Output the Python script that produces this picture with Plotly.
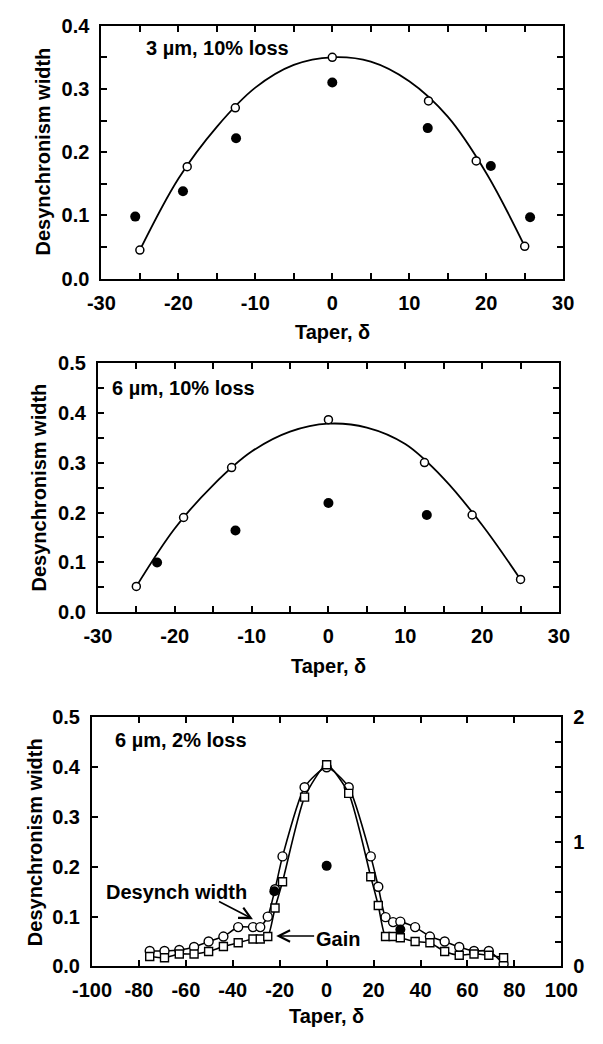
import plotly.graph_objects as go

# ---------------- Panel 1: 3 um, 10% loss ----------------
p1_open_x = [-25.0, -18.85, -12.6, 0.0, 12.5, 18.7, 25.0]
p1_open_y = [0.045, 0.177, 0.270, 0.350, 0.281, 0.186, 0.051]
p1_fill_x = [-25.6, -19.4, -12.5, 0.0, 12.4, 20.6, 25.7]
p1_fill_y = [0.098, 0.138, 0.222, 0.310, 0.238, 0.178, 0.097]
p1_fit_x = [-25, -20, -15, -10, -5, 0, 5, 10, 15, 20, 25]
p1_fit_y = [0.045, 0.158, 0.240, 0.302, 0.338, 0.350, 0.343, 0.312, 0.256, 0.167, 0.051]

# ---------------- Panel 2: 6 um, 10% loss ----------------
p2_open_x = [-25.0, -18.85, -12.6, 0.0, 12.5, 18.7, 25.0]
p2_open_y = [0.052, 0.190, 0.290, 0.386, 0.300, 0.195, 0.066]
p2_fill_x = [-22.3, -12.1, 0.0, 12.8]
p2_fill_y = [0.100, 0.164, 0.219, 0.195]
p2_fit_x = [-25, -20, -15, -10, -5, 0, 5, 10, 15, 20, 25]
p2_fit_y = [0.052, 0.168, 0.255, 0.322, 0.362, 0.378, 0.370, 0.337, 0.268, 0.175, 0.066]

# ---------------- Panel 3: 6 um, 2% loss ----------------
p3_x = [-75.4, -69.1, -62.8, -56.5, -50.3, -44.0, -37.7, -31.4, -28.3, -25.1, -22.0, -18.8, -9.4, 0.0,
        9.4, 18.8, 22.0, 25.1, 28.3, 31.4, 37.7, 44.0, 50.3, 56.5, 62.8, 69.1, 75.4]
p3_desynch = [0.031, 0.031, 0.033, 0.039, 0.050, 0.060, 0.079, 0.079, 0.079, 0.100, 0.155, 0.221, 0.360, 0.400,
              0.360, 0.221, 0.160, 0.099, 0.089, 0.090, 0.079, 0.060, 0.050, 0.039, 0.031, 0.031, 0.005]
p3_gain = [0.08, 0.07, 0.10, 0.10, 0.12, 0.16, 0.19, 0.22, 0.22, 0.24, 0.47, 0.68, 1.36, 1.62,
           1.39, 0.72, 0.49, 0.24, 0.24, 0.23, 0.20, 0.19, 0.12, 0.09, 0.10, 0.09, 0.07]
p3_fill_x = [-22.3, 0.0, 31.4]
p3_fill_y = [0.151, 0.202, 0.074]

# ---------------- tick labels ----------------
x12_tickvals = [-30, -20, -10, 0, 10, 20, 30]
x12_ticktext = ["-30", "-20", "-10", "0", "10", "20", "30"]
x3_tickvals = [-100, -80, -60, -40, -20, 0, 20, 40, 60, 80, 100]
x3_ticktext = ["-100", "-80", "-60", "-40", "-20", "0", "20", "40", "60", "80", "100"]

FONT = "Liberation Sans, Arial, Helvetica, sans-serif"
FS = 20
W, H = 603, 1044

fig = go.Figure()

open_marker = dict(symbol="circle", size=8, color="white", line=dict(color="black", width=1.5))
fill_marker = dict(symbol="circle", size=10, color="black")

# panel 1
fig.add_trace(go.Scatter(x=p1_fit_x, y=p1_fit_y, mode="lines", line=dict(color="black", width=1.8, shape="spline", smoothing=1),
                         xaxis="x", yaxis="y", showlegend=False))
fig.add_trace(go.Scatter(x=p1_open_x, y=p1_open_y, mode="markers", marker=open_marker, xaxis="x", yaxis="y", showlegend=False))
fig.add_trace(go.Scatter(x=p1_fill_x, y=p1_fill_y, mode="markers", marker=fill_marker, xaxis="x", yaxis="y", showlegend=False))

# panel 2
fig.add_trace(go.Scatter(x=p2_fit_x, y=p2_fit_y, mode="lines", line=dict(color="black", width=1.8, shape="spline", smoothing=1),
                         xaxis="x2", yaxis="y2", showlegend=False))
fig.add_trace(go.Scatter(x=p2_open_x, y=p2_open_y, mode="markers", marker=open_marker, xaxis="x2", yaxis="y2", showlegend=False))
fig.add_trace(go.Scatter(x=p2_fill_x, y=p2_fill_y, mode="markers", marker=fill_marker, xaxis="x2", yaxis="y2", showlegend=False))

# panel 3
fig.add_trace(go.Scatter(x=p3_x, y=p3_gain, mode="lines+markers",
                         line=dict(color="black", width=1.6, shape="spline", smoothing=0.6),
                         marker=dict(symbol="square", size=8, color="white", line=dict(color="black", width=1.4)),
                         xaxis="x3", yaxis="y4", showlegend=False))
fig.add_trace(go.Scatter(x=p3_x, y=p3_desynch, mode="lines+markers",
                         line=dict(color="black", width=1.6, shape="spline", smoothing=0.6),
                         marker=dict(symbol="circle", size=9, color="white", line=dict(color="black", width=1.4)),
                         xaxis="x3", yaxis="y3", showlegend=False))
fig.add_trace(go.Scatter(x=p3_fill_x, y=p3_fill_y, mode="markers", marker=fill_marker, xaxis="x3", yaxis="y3", showlegend=False))

tickfont = dict(family=FONT, size=FS, color="black", weight="bold")


def px_dom_x(a, b):
    return [a / W, b / W]


def px_dom_y(top, bottom):
    return [1 - bottom / H, 1 - top / H]


def xax(dom, anchor, rng, tv, tt, minor=None):
    d = dict(domain=dom, anchor=anchor, range=rng, tickmode="array", tickvals=tv, ticktext=tt,
             ticks="inside", ticklen=6, tickwidth=1.5,
             tickcolor="black", showline=True, linecolor="black", linewidth=2, mirror="ticks",
             showgrid=False, zeroline=False, tickfont=tickfont, ticklabelstandoff=5)
    if minor:
        d["minor"] = dict(tickmode="linear", tick0=0, dtick=minor, ticks="inside", ticklen=6, tickwidth=1.5,
                          tickcolor="black", showgrid=False)
    return d


def yax(dom, anchor, rng, dtick, minor=None, mirror="ticks"):
    d = dict(domain=dom, anchor=anchor, range=rng, dtick=dtick, tick0=0, ticks="inside", ticklen=6, tickwidth=1.5,
             tickcolor="black", showline=True, linecolor="black", linewidth=2, mirror=mirror,
             showgrid=False, zeroline=False, tickfont=tickfont, tickformat=".1f", ticklabelstandoff=6)
    if minor:
        d["minor"] = dict(dtick=minor, ticks="inside", ticklen=6, tickwidth=1.5, tickcolor="black", showgrid=False)
    return d


fig.update_layout(
    width=W, height=H, margin=dict(l=0, r=0, t=0, b=0),
    paper_bgcolor="white", plot_bgcolor="white", hovermode=False,
    font=dict(family=FONT, size=FS, color="black"),
    xaxis=xax(px_dom_x(86.7, 578.7), "y", [-30, 30], x12_tickvals, x12_ticktext, 5),
    yaxis=yax(px_dom_y(15, 273.3), "x", [0, 0.4], 0.1, 0.05),
    xaxis2=xax(px_dom_x(83, 574.2), "y2", [-30, 30], x12_tickvals, x12_ticktext, 5),
    yaxis2=yax(px_dom_y(359.3, 614.3), "x2", [0, 0.5], 0.1, 0.05),
    xaxis3=xax(px_dom_x(76.7, 576.7), "y3", [-100, 100], x3_tickvals, x3_ticktext),
    yaxis3=yax(px_dom_y(721.7, 976), "x3", [0, 0.5], 0.1, None, mirror=True),
    yaxis4=dict(domain=px_dom_y(721.7, 976), anchor="x3", overlaying="y3", side="right", range=[0, 2], dtick=1,
                tick0=0, ticks="inside", ticklen=6, tickwidth=1.5, tickcolor="black", showline=True,
                linecolor="black", linewidth=2, showgrid=False, zeroline=False, tickfont=tickfont,
                ticklabelstandoff=6,
                minor=dict(dtick=0.2, ticks="inside", ticklen=6, tickwidth=1.5, tickcolor="black", showgrid=False)),
)

lab_font = dict(family=FONT, size=FS, color="black", weight="bold")
ann = []
# y titles
for xc, yc in [(24, 144), (20, 487), (16, 849)]:
    ann.append(dict(text="Desynchronism width", xref="paper", yref="paper", x=xc / W, y=1 - yc / H,
                    textangle=-90, showarrow=False, font=lab_font, xanchor="center", yanchor="middle"))
# x titles
for xc, yc in [(332.7, 328), (328.6, 669), (326.7, 1027)]:
    ann.append(dict(text="Taper, δ", xref="paper", yref="paper", x=xc / W, y=1 - yc / H,
                    showarrow=False, font=lab_font, xanchor="center", yanchor="middle"))
# panel labels
ann.append(dict(text="3 µm, 10% loss", xref="x", yref="y", x=-24.4, y=0.364, showarrow=False,
                font=lab_font, xanchor="left", yanchor="middle"))
ann.append(dict(text="6 µm, 10% loss", xref="x2", yref="y2", x=-28.4, y=0.45, showarrow=False,
                font=lab_font, xanchor="left", yanchor="middle"))
ann.append(dict(text="6 µm, 2% loss", xref="x3", yref="y3", x=-91.2, y=0.454, showarrow=False,
                font=lab_font, xanchor="left", yanchor="middle"))
# panel 3 callouts
ann.append(dict(text="Desynch width", xref="x3", yref="y3", x=-64, y=0.149, showarrow=False,
                font=lab_font, xanchor="center", yanchor="middle"))
ann.append(dict(text="", xref="x3", yref="y3", x=-31.4, y=0.095, axref="x3", ayref="y3", ax=-46.5, ay=0.132,
                showarrow=True, arrowhead=5, arrowsize=1.4, arrowwidth=1.6, arrowcolor="black", standoff=0))
ann.append(dict(text="Gain", xref="x3", yref="y3", x=5, y=0.055, showarrow=False,
                font=lab_font, xanchor="center", yanchor="middle"))
ann.append(dict(text="", xref="x3", yref="y3", x=-21.5, y=0.061, axref="x3", ayref="y3", ax=-4.7, ay=0.061,
                showarrow=True, arrowhead=5, arrowsize=1.4, arrowwidth=1.6, arrowcolor="black", standoff=0))
fig.update_layout(annotations=ann)

fig.write_html("out.html", config={"displayModeBar": False},
               post_script="document.body.style.margin='0';")
